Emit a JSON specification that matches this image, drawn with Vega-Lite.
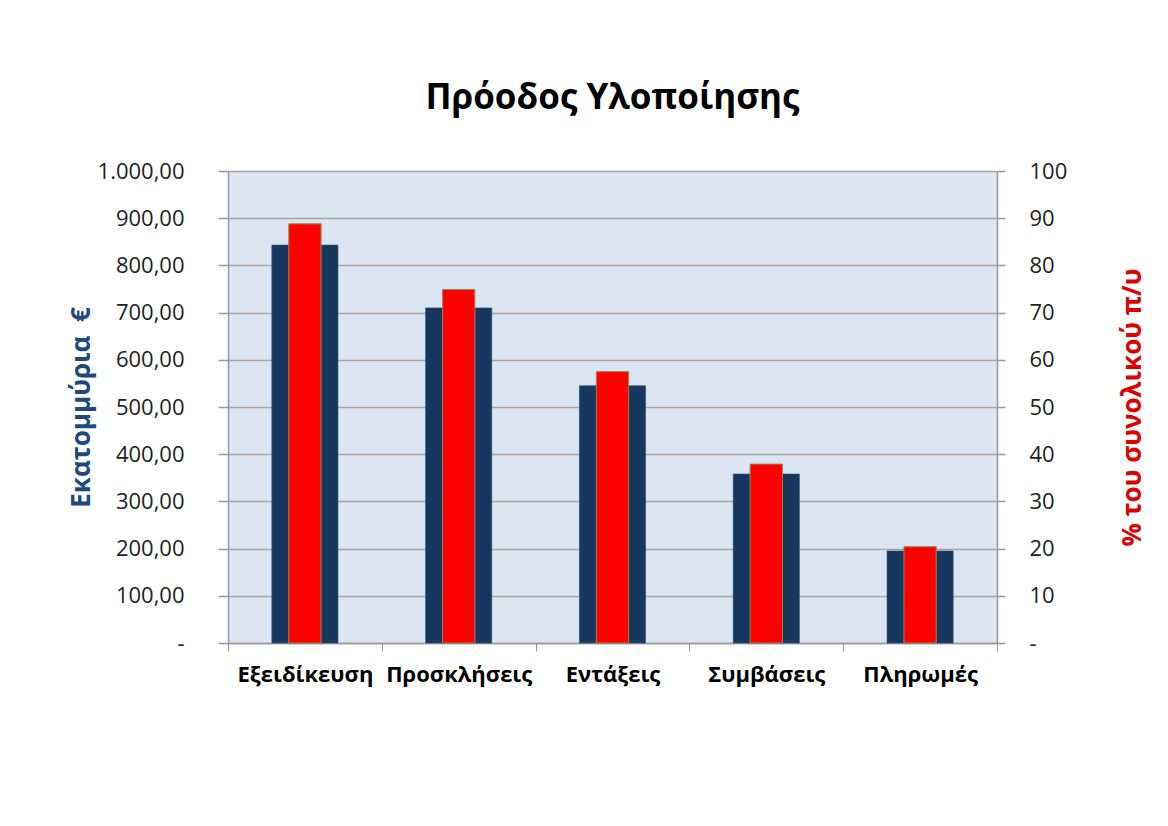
{
  "$schema": "https://vega.github.io/schema/vega-lite/v6.json",
  "width": 769,
  "height": 472,
  "autosize": {"type": "none"},
  "padding": {"left": 228, "top": 171, "right": 171, "bottom": 183},
  "background": "white",
  "title": {
    "text": "Πρόοδος Υλοποίησης",
    "font": "Open Sans",
    "fontSize": 35,
    "fontWeight": "bold",
    "color": "#000000",
    "anchor": "middle",
    "frame": "group",
    "offset": 44
  },
  "data": {
    "values": [
      {"stage": "Εξειδίκευση", "million": 843, "percent": 88.8},
      {"stage": "Προσκλήσεις", "million": 710, "percent": 74.9},
      {"stage": "Εντάξεις", "million": 545, "percent": 57.5},
      {"stage": "Συμβάσεις", "million": 358, "percent": 37.9},
      {"stage": "Πληρωμές", "million": 195, "percent": 20.4}
    ]
  },
  "encoding": {
    "x": {
      "field": "stage",
      "type": "nominal",
      "sort": null,
      "scale": {"paddingInner": 0, "paddingOuter": 0},
      "axis": {
        "title": null,
        "labelAngle": 0,
        "labelFont": "Open Sans",
        "labelFontSize": 22,
        "labelFontWeight": "bold",
        "labelColor": "#000000",
        "labelPadding": 13,
        "tickBand": "extent",
        "tickSize": 8,
        "tickColor": "#999999",
        "domainColor": "#999999",
        "domainWidth": 1.5,
        "grid": false
      }
    }
  },
  "layer": [
    {
      "mark": {"type": "bar", "width": {"band": 0.43}, "color": "#17375E", "stroke": "#2B4A72", "strokeWidth": 0.6},
      "encoding": {
        "y": {
          "field": "million",
          "type": "quantitative",
          "scale": {"domain": [0, 1000], "nice": false},
          "axis": {
            "orient": "left",
            "values": [0, 100, 200, 300, 400, 500, 600, 700, 800, 900, 1000],
            "format": ",.2f",
            "labelExpr": "datum.value == 0 ? '-' : datum.label",
            "labelFont": "Open Sans",
            "labelFontSize": 22,
            "labelColor": "#222222",
            "labelPadding": 34,
            "tickSize": 10,
            "tickColor": "#999999",
            "tickWidth": 1.5,
            "domainColor": "#999999",
            "domainWidth": 1.5,
            "grid": true,
            "gridColor": "#A5A5A5",
            "gridWidth": 1.5,
            "title": "Εκατομμύρια\u00a0\u00a0€",
            "titleFont": "Open Sans",
            "titleFontSize": 26,
            "titleFontWeight": "bold",
            "titleColor": "#1F497D",
            "titlePadding": 3
          }
        }
      }
    },
    {
      "mark": {"type": "bar", "width": {"band": 0.21}, "color": "#FF0000", "stroke": "#948A54", "strokeWidth": 1},
      "encoding": {
        "y": {
          "field": "percent",
          "type": "quantitative",
          "scale": {"domain": [0, 100], "nice": false},
          "axis": {
            "orient": "right",
            "values": [0, 10, 20, 30, 40, 50, 60, 70, 80, 90, 100],
            "labelExpr": "datum.value == 0 ? '-' : datum.label",
            "labelFont": "Open Sans",
            "labelFontSize": 22,
            "labelColor": "#222222",
            "labelPadding": 24,
            "tickSize": 8,
            "tickColor": "#999999",
            "tickWidth": 1.5,
            "domainColor": "#999999",
            "domainWidth": 1.5,
            "grid": false,
            "title": "% του συνολικού π/υ",
            "titleFont": "Open Sans",
            "titleFontSize": 26,
            "titleFontWeight": "bold",
            "titleColor": "#E00000",
            "titleAngle": 270,
            "titlePadding": 79
          }
        }
      }
    }
  ],
  "resolve": {"scale": {"y": "independent"}, "axis": {"y": "independent"}},
  "config": {
    "view": {"fill": "#DCE6F2", "stroke": null},
    "locale": {"number": {"decimal": ",", "thousands": ".", "grouping": [3], "currency": ["", " €"]}}
  }
}
